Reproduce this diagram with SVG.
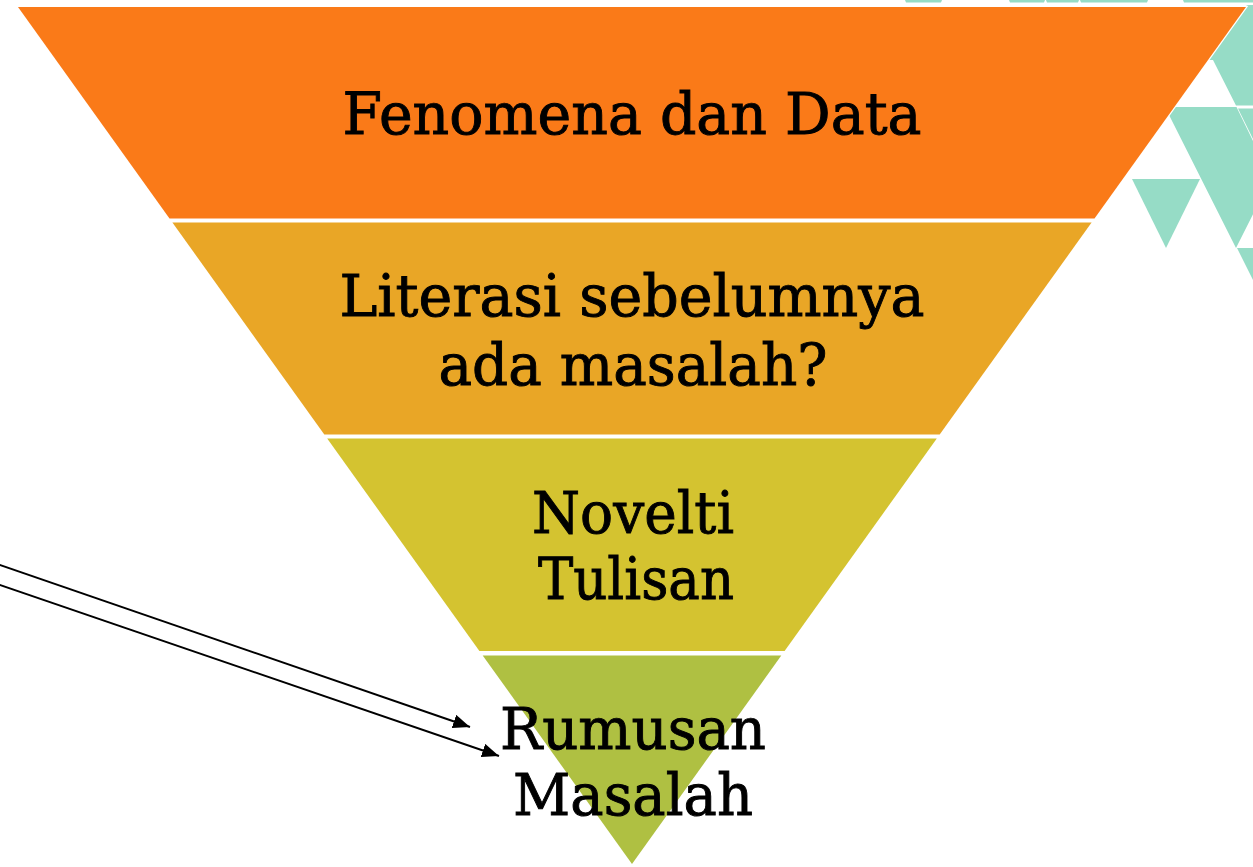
<svg xmlns="http://www.w3.org/2000/svg" width="1253" height="867" viewBox="0 0 1253 867">
<style>
.deco{fill:#96DCC6}
.layer{stroke:#FFFFFF;stroke-width:2.5;paint-order:stroke;stroke-linejoin:miter}
.lbl{font-family:"DejaVu Serif","Liberation Serif",serif;font-size:57px;fill:#000000;stroke:#000000;stroke-width:0.9;text-anchor:middle}
.conn{stroke:#000000;stroke-width:2;fill:none}
</style>
<defs>
<marker id="arrow" markerUnits="userSpaceOnUse" markerWidth="18" markerHeight="14" refX="17" refY="7" orient="auto">
<path d="M0,0 L17,7 L0,14 z" fill="#000000"/>
</marker>
</defs>
<rect x="0" y="0" width="1253" height="867" fill="#FFFFFF"/>
<g id="decoration">
<polygon class="deco" points="905,0 942,0 941,2.5 906,2.5"/>
<polygon class="deco" points="1009,0 1045,0 1044,2.5 1010,2.5"/>
<polygon class="deco" points="1046,0 1079,0 1078,2.5 1047,2.5"/>
<polygon class="deco" points="1080,0 1148,0 1147,2.5 1081,2.5"/>
<polygon class="deco" points="1183,0 1253,0 1253,2.5 1184,2.5"/>
<polygon class="deco" points="1247,5 1253,5 1253,105.5 1236,105.5 1213,60 1200,60"/>
<polygon class="deco" points="1165,107 1236.5,107 1253,141 1253,141 1253,107 1307,107 1236,248"/>
<polygon class="deco" points="1238,108.5 1253,108.5 1253,139"/>
<polygon class="deco" points="1132,179 1200,179 1166,248"/>
<polygon class="deco" points="1237,248 1253,248 1253,280"/>
</g>
<g id="layer1">
<polygon class="layer" fill="#FA7A18" points="18,7 1246,7 1094.5,218.5 169.5,218.5"/>
<text class="lbl" x="632" y="134" textLength="579" lengthAdjust="spacingAndGlyphs">Fenomena dan Data</text>
</g>
<g id="layer2">
<polygon class="layer" fill="#E9A626" points="172.4,222.5 1091.6,222.5 939.7,434.5 324.3,434.5"/>
<text class="lbl" x="632" y="316" textLength="585" lengthAdjust="spacingAndGlyphs">Literasi sebelumnya</text>
<text class="lbl" x="633" y="385" textLength="389" lengthAdjust="spacingAndGlyphs">ada masalah?</text>
</g>
<g id="layer3">
<polygon class="layer" fill="#D4C330" points="327.2,438.5 936.8,438.5 784.6,651 479.4,651"/>
<text class="lbl" x="633" y="533" textLength="202" lengthAdjust="spacingAndGlyphs">Novelti</text>
<text class="lbl" x="636" y="599" textLength="196" lengthAdjust="spacingAndGlyphs">Tulisan</text>
</g>
<g id="layer4">
<polygon class="layer" fill="#AFC042" points="482.7,655.5 781.3,655.5 632,864"/>
<text class="lbl" x="633" y="749" textLength="266" lengthAdjust="spacingAndGlyphs">Rumusan</text>
<text class="lbl" x="633" y="815" textLength="240" lengthAdjust="spacingAndGlyphs">Masalah</text>
</g>
<g id="connectors">
<line class="conn" x1="-2" y1="564.3" x2="470" y2="727" marker-end="url(#arrow)"/>
<line class="conn" x1="-2" y1="584.3" x2="499" y2="756" marker-end="url(#arrow)"/>
</g>
</svg>
